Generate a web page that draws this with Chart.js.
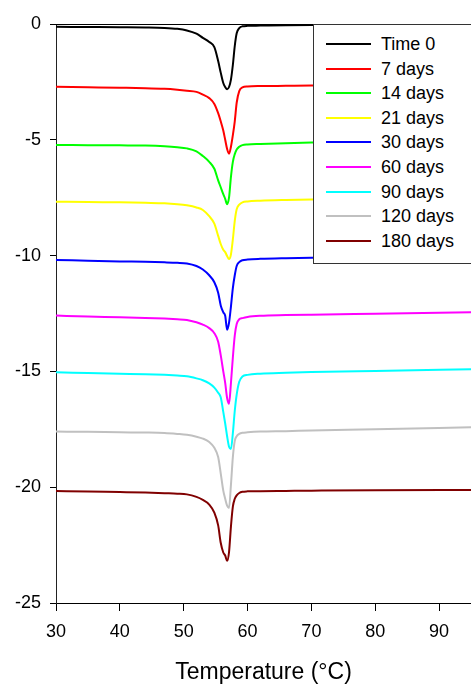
<!DOCTYPE html>
<html><head><meta charset="utf-8">
<script src="https://cdn.jsdelivr.net/npm/chart.js@4"></script>
<style>
html,body{margin:0;padding:0;background:#fff;overflow:hidden}
#wrap{position:relative;width:471px;height:686px}
#legend{position:absolute;left:313px;top:24px;width:170px;height:240px;box-sizing:border-box;border:1px solid #333;background:#fff;font-family:"Liberation Sans",Arial,sans-serif;font-size:18px;color:#000}
.row{position:absolute;left:0;height:22px;line-height:22px;white-space:nowrap;width:160px}
.sw{position:absolute;left:12px;top:10px;width:45px;height:2px}
.lb{position:absolute;left:67px;top:0}
</style></head>
<body><div id="wrap"><canvas id="c" width="471" height="686"></canvas><div id="legend"></div></div>
<script>
const temps   = [30, 35, 40, 44, 47, 49, 50.5, 52, 53, 54, 54.8, 55.4, 55.8, 56.2, 56.5, 56.8, 57.1, 57.4, 57.7, 58, 58.3, 58.7, 59.2, 60, 62, 66, 70, 80, 95];
const seriesLabels = ["Time 0", "7 days", "14 days", "21 days", "30 days", "60 days", "90 days", "120 days", "180 days"];
const seriesColors = ["#000000", "#ff0000", "#00ff00", "#ffff00", "#0000ff", "#ff00ff", "#00ffff", "#c0c0c0", "#800000"];
const time0   = [-0.12, -0.13, -0.14, -0.15, -0.17, -0.21, -0.28, -0.42, -0.6, -0.78, -1.0, -1.6, -2.1, -2.55, -2.72, -2.82, -2.72, -2.4, -1.77, -0.95, -0.4, -0.18, -0.1, -0.08, -0.07, -0.05, -0.04, -0.03, -0.01];
const days7   = [-2.71, -2.73, -2.75, -2.77, -2.8, -2.84, -2.88, -2.93, -3.05, -3.2, -3.45, -3.85, -4.2, -4.6, -5.0, -5.4, -5.6, -5.3, -4.8, -4.2, -3.4, -2.9, -2.74, -2.7, -2.68, -2.67, -2.66, -2.64, -2.6];
const days14  = [-5.22, -5.23, -5.24, -5.25, -5.28, -5.32, -5.37, -5.5, -5.7, -5.95, -6.25, -6.75, -7.05, -7.35, -7.55, -7.78, -7.5, -6.6, -5.95, -5.62, -5.42, -5.3, -5.23, -5.2, -5.18, -5.15, -5.12, -5.08, -5.02];
const days21  = [-7.67, -7.69, -7.7, -7.72, -7.74, -7.78, -7.83, -7.92, -8.03, -8.3, -8.62, -9.15, -9.5, -9.75, -9.85, -10.02, -10.15, -9.95, -9.3, -8.5, -8.0, -7.8, -7.7, -7.66, -7.63, -7.6, -7.58, -7.55, -7.5];
const days30  = [-10.19, -10.22, -10.25, -10.27, -10.29, -10.31, -10.34, -10.45, -10.6, -10.85, -11.15, -11.6, -12.15, -12.45, -12.6, -13.2, -12.9, -12.2, -11.4, -10.85, -10.45, -10.28, -10.2, -10.17, -10.14, -10.11, -10.09, -10.07, -10.04];
const days60  = [-12.59, -12.63, -12.66, -12.69, -12.72, -12.75, -12.78, -12.88, -12.98, -13.13, -13.35, -13.72, -14.3, -15.0, -15.5, -16.15, -16.4, -15.5, -14.4, -13.45, -12.95, -12.75, -12.7, -12.65, -12.6, -12.57, -12.55, -12.51, -12.45];
const days90  = [-15.04, -15.07, -15.1, -15.12, -15.15, -15.18, -15.21, -15.3, -15.38, -15.52, -15.7, -15.92, -16.12, -16.75, -17.25, -17.8, -18.25, -18.35, -17.67, -16.7, -16.0, -15.45, -15.22, -15.15, -15.1, -15.06, -15.03, -14.98, -14.91];
const days120 = [-17.6, -17.61, -17.63, -17.64, -17.66, -17.7, -17.74, -17.82, -17.9, -18.05, -18.3, -18.7, -19.4, -20.15, -20.5, -20.8, -20.9, -19.9, -18.7, -18.0, -17.8, -17.7, -17.65, -17.63, -17.6, -17.58, -17.55, -17.5, -17.41];
const days180 = [-20.16, -20.19, -20.21, -20.23, -20.26, -20.28, -20.31, -20.42, -20.55, -20.75, -21.1, -21.65, -22.4, -22.82, -22.95, -23.18, -22.8, -21.7, -20.84, -20.5, -20.35, -20.25, -20.2, -20.18, -20.17, -20.16, -20.15, -20.13, -20.12];
const xTicks = [30, 40, 50, 60, 70, 80, 90];
const yTicks = [-25, -20, -15, -10, -5, 0];

const allSeries = [time0, days7, days14, days21, days30, days60, days90, days120, days180];
const FONT = "'Liberation Sans', Arial, sans-serif";

const datasets = allSeries.map((vals, i) => ({
  label: seriesLabels[i],
  data: vals.map((v, j) => ({x: temps[j], y: v})),
  borderColor: seriesColors[i],
  backgroundColor: seriesColors[i],
  borderWidth: 2,
  pointRadius: 0,
  fill: false,
  cubicInterpolationMode: 'monotone'
}));

const topLine = {
  id: 'topLine',
  beforeDatasetsDraw(chart) {
    const {ctx, chartArea} = chart;
    ctx.save();
    ctx.strokeStyle = '#000';
    ctx.lineWidth = 1;
    ctx.beginPath();
    ctx.moveTo(chartArea.left, chartArea.top + 0.5);
    ctx.lineTo(chartArea.right, chartArea.top + 0.5);
    ctx.stroke();
    ctx.restore();
  }
};

new Chart(document.getElementById('c'), {
  type: 'line',
  data: {datasets},
  plugins: [topLine],
  options: {
    responsive: false,
    animation: false,
    devicePixelRatio: 1,
    layout: {padding: {top: 24, right: 0, left: 0, bottom: 0}},
    plugins: {legend: {display: false}, tooltip: {enabled: false}},
    scales: {
      x: {
        type: 'linear', min: 30, max: 95,
        afterBuildTicks: s => { s.ticks = xTicks.map(v => ({value: v})); },
        afterFit: s => { s.height = 83; },
        grid: {display: true, drawOnChartArea: false, drawTicks: true, tickLength: 8, color: '#000'},
        border: {display: true, color: '#000', width: 1},
        ticks: {color: '#000', font: {family: FONT, size: 18}, padding: 10, maxRotation: 0},
        title: {display: true, text: 'Temperature (°C)', color: '#000', font: {family: FONT, size: 23}, padding: {top: 0, bottom: 0}}
      },
      y: {
        type: 'linear', min: -25, max: 0,
        afterBuildTicks: s => { s.ticks = yTicks.map(v => ({value: v})); },
        afterFit: s => { s.width = 56; },
        grid: {display: true, drawOnChartArea: false, drawTicks: true, tickLength: 6, color: '#000'},
        border: {display: true, color: '#222', width: 1},
        ticks: {color: '#000', font: {family: FONT, size: 18}, padding: 9}
      }
    }
  }
});

const leg = document.getElementById('legend');
seriesLabels.forEach((lab, i) => {
  const cy = 44 + i * 24.6;
  const row = document.createElement('div');
  row.className = 'row';
  row.style.top = (cy - 24 - 1 - 11) + 'px';
  const sw = document.createElement('span');
  sw.className = 'sw';
  sw.style.background = seriesColors[i];
  const lb = document.createElement('span');
  lb.className = 'lb';
  lb.textContent = lab;
  row.appendChild(sw); row.appendChild(lb);
  leg.appendChild(row);
});
</script>
</body></html>
